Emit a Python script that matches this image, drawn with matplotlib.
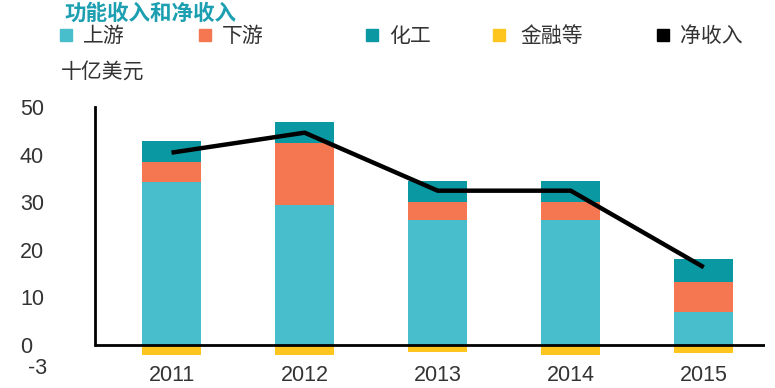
import numpy as np
import matplotlib
matplotlib.use("Agg")
import matplotlib.pyplot as plt
import matplotlib.transforms as mtransforms
from matplotlib.patches import Rectangle

plt.rcParams['font.family'] = ['Liberation Sans', 'Noto Sans CJK SC', 'DejaVu Sans']

# data (billion USD)
years = ["2011", "2012", "2013", "2014", "2015"]
upstream = [34.2, 29.4, 26.3, 26.3, 6.9]
downstream = [4.2, 13.0, 3.7, 3.7, 6.3]
chemicals = [4.5, 4.4, 4.5, 4.5, 4.8]
finance = [-2.2, -2.1, -1.6, -2.2, -1.7]
net_income = [40.4, 44.6, 32.4, 32.4, 16.3]

series_names = ["上游", "下游", "化工", "金融等", "净收入"]
colors = ["#48bdcc", "#f47752", "#0a98a2", "#fec51f", "#000000"]
yticks = [-3, 0, 10, 20, 30, 40, 50]

W, H = 775, 388
fig = plt.figure(figsize=(W / 100, H / 100), dpi=100)

def fx(px):
    return px / W

def fy(py):
    return 1 - py / H

# axes placed to match the reference pixel layout
ax = fig.add_axes([fx(95), fy(359), fx(765) - fx(95), fy(107) - fy(359)])

x = np.arange(len(years))
bw = 0.445
up = np.array(upstream)
down = np.array(downstream)
chem = np.array(chemicals)

ax.bar(x, up, bw, color=colors[0], zorder=2)
ax.bar(x, down, bw, bottom=up, color=colors[1], zorder=2)
ax.bar(x, chem, bw, bottom=up + down, color=colors[2], zorder=2)
ax.bar(x, finance, bw, color=colors[3], zorder=2)
ax.plot(x, net_income, color="black", lw=3.2, zorder=3, solid_capstyle="butt")

ax.axhline(0, color="black", lw=2, zorder=4)

ax.set_xlim(-0.575, 4.46)
ax.set_ylim(-3, 50)
ax.set_yticks(yticks)
ax.set_yticklabels([str(v) for v in yticks])
ax.set_xticks(x)
ax.set_xticklabels(years)

for s in ["top", "right", "bottom"]:
    ax.spines[s].set_visible(False)
ax.spines["left"].set_bounds(0, 50)
ax.spines["left"].set_linewidth(2)

ax.tick_params(axis="y", length=0, pad=54, labelsize=15.5, labelcolor="#333333")
for lab in ax.get_yticklabels():
    lab.set_horizontalalignment("left")
# the -3 label sits a little lower and to the right, as in the reference
neg = ax.get_yticklabels()[0]
neg.set_transform(neg.get_transform() +
                  mtransforms.ScaledTranslation(6 / 72, -5 / 72, fig.dpi_scale_trans))
ax.tick_params(axis="x", length=0, pad=4, labelsize=15.5, labelcolor="#333333")

# title
fig.text(fx(64), fy(13), "功能收入和净收入", fontsize=15.5, fontweight="bold",
         color="#1c9fb1", family=["Noto Sans CJK SC"], va="center", ha="left")

# legend row
marker_x = [60, 199, 366, 493, 657]
text_x = [83, 222, 389, 520, 680]
for name, c, mx, tx in zip(series_names, colors, marker_x, text_x):
    fig.patches.append(Rectangle((fx(mx), fy(41)), fx(12), 12 / H, color=c,
                                 transform=fig.transFigure, figure=fig))
    fig.text(fx(tx), fy(36), name, fontsize=15, color="#333333",
             family=["Noto Sans CJK SC"], va="center", ha="left")

# unit
fig.text(fx(61), fy(72), "十亿美元", fontsize=15, color="#333333",
         family=["Noto Sans CJK SC"], va="center", ha="left")

fig.savefig("out.png", dpi=100)
